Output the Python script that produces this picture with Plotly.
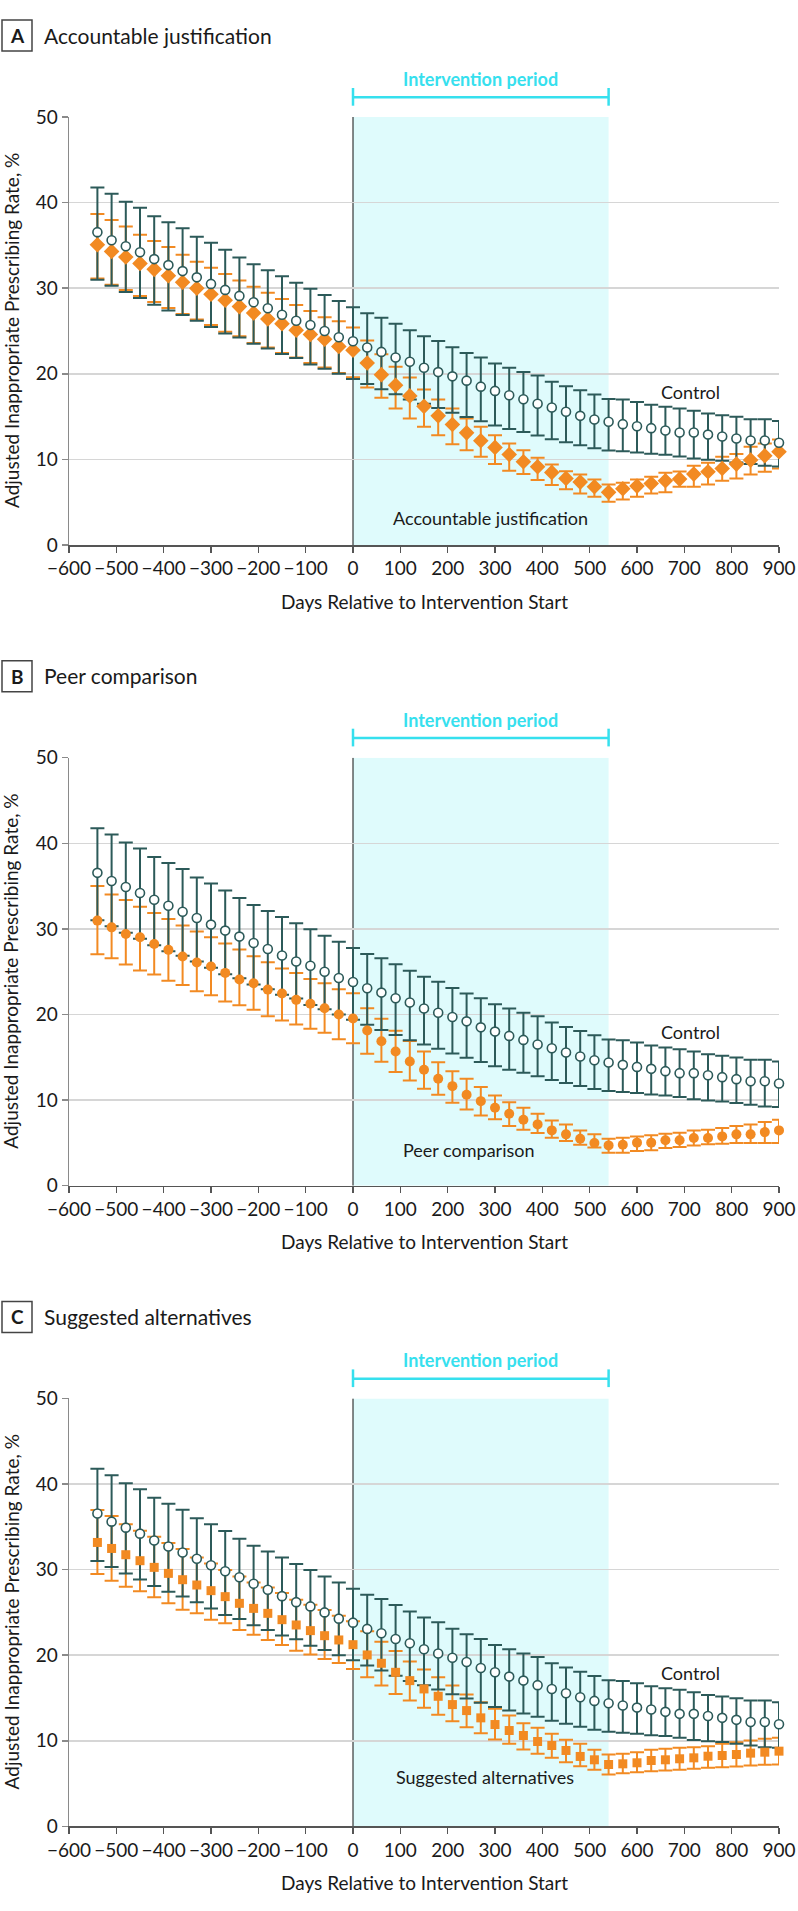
import plotly.graph_objects as go

# ---------------- data ----------------
days = list(range(-540, 901, 30))

control_rate = [36.55, 35.6, 34.9, 34.2, 33.4, 32.7, 32.0, 31.27, 30.5, 29.8, 29.1, 28.35, 27.65, 26.9, 26.2, 25.7, 25.0, 24.27,
                23.8, 23.07, 22.56, 21.9, 21.4, 20.7, 20.2, 19.7, 19.2, 18.5, 18.0, 17.5, 17.03, 16.5, 16.06, 15.56, 15.09, 14.66,
                14.39, 14.12, 13.88, 13.65, 13.38, 13.15, 13.15, 12.9, 12.68, 12.45, 12.2, 12.2, 11.94]
control_upper = [41.77, 41.03, 40.1, 39.4, 38.4, 37.7, 37.0, 36.0, 35.3, 34.5, 33.6, 32.8, 32.1, 31.4, 30.65, 29.95, 29.2, 28.5,
                 27.77, 27.07, 26.56, 25.86, 25.1, 24.4, 23.84, 23.1, 22.44, 21.9, 21.2, 20.7, 20.2, 19.8, 19.06, 18.55, 18.08, 17.58,
                 17.07, 17.0, 16.72, 16.37, 16.14, 15.95, 15.67, 15.36, 15.17, 14.97, 14.7, 14.7, 14.5]
control_lower = [31.0, 30.3, 29.55, 28.85, 28.08, 27.4, 26.87, 26.2, 25.47, 24.7, 24.23, 23.5, 22.95, 22.3, 21.86, 21.1, 20.6, 20.0,
                 19.4, 18.8, 18.2, 17.6, 17.0, 16.5, 16.0, 15.45, 14.95, 14.45, 13.95, 13.55, 13.2, 12.8, 12.35, 12.0, 11.65, 11.3,
                 11.05, 10.95, 10.82, 10.66, 10.55, 10.35, 10.1, 9.96, 9.85, 9.65, 9.46, 9.25, 9.18]

aj_rate = [35.08, 34.3, 33.64, 32.9, 32.2, 31.46, 30.7, 30.0, 29.3, 28.6, 27.85, 27.1, 26.4, 25.86, 25.1, 24.6, 24.04, 23.2,
           22.75, 21.27, 19.9, 18.67, 17.42, 16.2, 15.09, 14.08, 13.1, 12.17, 11.4, 10.58, 9.72, 9.14, 8.48, 7.78, 7.35, 6.81,
           6.15, 6.57, 6.88, 7.19, 7.5, 7.7, 8.28, 8.56, 8.94, 9.45, 9.92, 10.42, 10.89]
aj_upper = [38.66, 37.96, 37.2, 36.25, 35.5, 34.8, 33.9, 33.1, 32.4, 31.66, 30.9, 30.18, 29.48, 28.74, 28.04, 27.34, 26.6, 26.13,
            25.4, 23.9, 22.28, 20.82, 19.56, 18.16, 17.0, 15.95, 14.78, 13.8, 12.83, 11.86, 11.08, 10.19, 9.41, 8.63, 8.25, 7.66,
            7.08, 7.27, 7.66, 7.97, 8.44, 8.6, 9.26, 9.6, 10.3, 10.62, 11.47, 11.86, 12.33]
aj_lower = [31.13, 30.4, 29.8, 29.1, 28.4, 27.7, 27.0, 26.35, 25.7, 24.9, 24.4, 23.6, 23.06, 22.44, 21.9, 21.27, 20.73, 20.1,
            19.6, 18.4, 17.2, 15.95, 14.78, 13.8, 12.83, 11.78, 11.08, 10.3, 9.45, 8.67, 8.28, 7.58, 7.0, 6.5, 6.03, 5.64,
            5.05, 5.33, 5.64, 6.03, 6.15, 6.8, 6.8, 7.08, 7.5, 7.78, 8.25, 8.56, 8.94]

pc_rate = [30.97, 30.18, 29.41, 29.02, 28.24, 27.55, 26.77, 26.07, 25.6, 24.86, 24.08, 23.65, 22.91, 22.45, 21.71, 21.25, 20.74, 20.0,
           19.53, 18.13, 16.88, 15.68, 14.51, 13.54, 12.5, 11.63, 10.63, 9.88, 9.11, 8.41, 7.71, 7.16, 6.46, 6.0, 5.49, 4.98,
           4.71, 4.79, 5.03, 5.03, 5.3, 5.3, 5.57, 5.57, 5.76, 6.0, 6.0, 6.26, 6.46]
pc_upper = [35.0, 34.03, 33.38, 32.6, 31.86, 31.16, 30.4, 29.71, 29.01, 28.3, 27.58, 26.8, 26.1, 25.36, 24.86, 24.16, 23.65, 22.95,
            22.48, 20.73, 19.5, 18.1, 16.9, 15.68, 14.43, 13.38, 12.5, 11.52, 10.55, 9.76, 9.11, 8.41, 7.63, 7.16, 6.46, 6.0,
            5.49, 5.61, 5.76, 5.88, 6.08, 6.2, 6.46, 6.54, 6.73, 6.97, 7.16, 7.43, 7.71]
pc_lower = [27.03, 26.56, 25.83, 25.13, 24.66, 23.93, 23.46, 22.72, 22.25, 21.51, 21.08, 20.55, 19.8, 19.3, 18.83, 18.33, 17.86, 17.12,
            16.65, 15.41, 14.48, 13.27, 12.3, 11.33, 10.63, 9.7, 8.91, 8.21, 7.75, 6.97, 6.54, 6.15, 5.61, 5.22, 4.79, 4.45,
            3.86, 3.86, 4.05, 4.13, 4.4, 4.51, 4.71, 4.83, 4.91, 4.98, 4.98, 4.98, 4.98]

sa_rate = [33.17, 32.47, 31.74, 31.04, 30.26, 29.56, 28.82, 28.2, 27.54, 26.84, 26.06, 25.47, 24.89, 24.15, 23.53, 22.87, 22.28, 21.78,
           21.23, 20.03, 19.06, 18.0, 17.03, 16.06, 15.2, 14.23, 13.53, 12.68, 11.9, 11.2, 10.62, 9.92, 9.45, 8.87, 8.17, 7.78,
           7.23, 7.31, 7.43, 7.7, 7.78, 7.9, 8.01, 8.2, 8.28, 8.4, 8.56, 8.67, 8.79]
sa_upper = [36.95, 36.25, 35.3, 34.53, 33.84, 33.1, 32.4, 31.42, 30.72, 29.95, 29.2, 28.5, 27.92, 27.27, 26.49, 25.9, 25.28, 24.62,
            23.96, 22.79, 21.58, 20.5, 19.27, 18.32, 17.42, 16.45, 15.4, 14.5, 13.73, 12.95, 12.05, 11.52, 10.82, 10.12, 9.65, 8.94,
            8.4, 8.48, 8.67, 8.94, 9.06, 9.18, 9.26, 9.37, 9.65, 9.84, 10.03, 10.23, 10.35]
sa_lower = [29.48, 28.7, 28.0, 27.46, 26.76, 26.06, 25.32, 24.89, 24.15, 23.72, 22.95, 22.4, 21.78, 21.2, 20.53, 20.07, 19.56, 19.1,
            18.4, 17.42, 16.45, 15.48, 14.7, 13.85, 13.03, 12.29, 11.59, 10.89, 10.15, 9.65, 8.98, 8.48, 8.01, 7.5, 7.04, 6.61,
            6.07, 6.22, 6.34, 6.45, 6.53, 6.61, 6.73, 6.85, 6.92, 7.0, 7.12, 7.2, 7.23]

panel_letters = ["A", "B", "C"]
panel_titles = ["Accountable justification", "Peer comparison", "Suggested alternatives"]
panel_symbols = ["diamond", "circle", "square"]
label_pos = [(291, 3.1), (246, 4.2), (278, 5.8)]
x_ticks = list(range(-600, 901, 100))
y_ticks = list(range(0, 51, 10))
intervention_start, intervention_end = 0, 540

interventions = [(aj_rate, aj_lower, aj_upper), (pc_rate, pc_lower, pc_upper), (sa_rate, sa_lower, sa_upper)]

# ---------------- style ----------------
W, H = 798, 1911
ML, MR = 69, 19
PW = W - ML - MR
FONT = "Lato"
TEAL = "#2c5a59"
ORANGE = "#f28a22"
CYAN = "#36e0ee"
SHADE = "#dffbfc"
TXT = "#1a1a1a"


def px_x(p):
    return (p - ML) / PW


def px_y(p):
    return 1 - p / H


panels_px = [(117.0, 545.0), (757.7, 1185.7), (1398.4, 1826.4)]

fig = go.Figure()
shapes, annots = [], []


def eb(r, l, u):
    return dict(type="data", symmetric=False,
                array=[a - b for a, b in zip(u, r)],
                arrayminus=[b - a for a, b in zip(l, r)])


for i in range(3):
    xa = "x" if i == 0 else f"x{i+1}"
    ya = "y" if i == 0 else f"y{i+1}"
    rate, lo, up = interventions[i]

    fig.add_trace(go.Scatter(x=days, y=rate, mode="markers", xaxis=xa, yaxis=ya, cliponaxis=False,
                             marker=dict(size=1, color="rgba(0,0,0,0)"),
                             error_y=dict(**eb(rate, lo, up), color=ORANGE, thickness=2, width=7),
                             showlegend=False, hoverinfo="skip"))
    fig.add_trace(go.Scatter(x=days, y=control_rate, mode="markers", xaxis=xa, yaxis=ya, cliponaxis=False,
                             marker=dict(size=1, color="rgba(0,0,0,0)"),
                             error_y=dict(**eb(control_rate, control_lower, control_upper), color=TEAL, thickness=2, width=7),
                             showlegend=False, hoverinfo="skip"))
    sym = panel_symbols[i]
    msize = {"diamond": 12, "circle": 10, "square": 9}[sym]
    fig.add_trace(go.Scatter(x=days, y=rate, mode="markers", xaxis=xa, yaxis=ya, cliponaxis=False,
                             marker=dict(symbol=sym, size=msize, color=ORANGE, line=dict(width=0)),
                             name=panel_titles[i], showlegend=False))
    fig.add_trace(go.Scatter(x=days, y=control_rate, mode="markers", xaxis=xa, yaxis=ya, cliponaxis=False,
                             marker=dict(symbol="circle", size=9, color="white", line=dict(width=1.6, color=TEAL)),
                             name="Control", showlegend=False))

    top, bot = panels_px[i]
    dom = [1 - bot / H, 1 - top / H]
    axis_common = dict(showline=True, linewidth=1.5, ticks="outside", ticklen=6, tickwidth=1.5,
                       tickfont=dict(family=FONT, size=19, color=TXT), zeroline=False,
                       ticklabeloverflow="allow", automargin=False)
    fig.layout[("xaxis" if i == 0 else f"xaxis{i+1}")] = dict(
        domain=[0, 1], anchor=ya, range=[-600, 900], tickvals=x_ticks, showgrid=False,
        linecolor="#555555", tickcolor="#555555", **axis_common)
    fig.layout[("yaxis" if i == 0 else f"yaxis{i+1}")] = dict(
        domain=dom, anchor=xa, range=[0, 50], tickvals=y_ticks, showgrid=True,
        gridcolor="#d6d6d6", gridwidth=1.5, linecolor="#8a8a8a", tickcolor="#8a8a8a", **axis_common)

    yd = ya + " domain"
    ph = bot - top
    shapes.append(dict(type="rect", xref=xa, yref=ya, x0=intervention_start, x1=intervention_end, y0=0, y1=50,
                       fillcolor=SHADE, line=dict(width=0), layer="below"))
    shapes.append(dict(type="line", xref=xa, yref=ya, x0=0, x1=0, y0=0, y1=50,
                       line=dict(color="#111111", width=1), layer="below"))
    yb = 1 + 19.7 / ph
    shapes.append(dict(type="line", xref=xa, yref=yd, x0=intervention_start, x1=intervention_end, y0=yb, y1=yb,
                       line=dict(color=CYAN, width=2.5)))
    for xv in (intervention_start, intervention_end):
        shapes.append(dict(type="line", xref=xa, yref=yd, x0=xv, x1=xv, y0=1 + 11.3 / ph, y1=1 + 29 / ph,
                           line=dict(color=CYAN, width=2.5)))
    annots.append(dict(text="<b>Intervention period</b>", xref=xa, yref=yd, x=270, y=1 + 38 / ph,
                       xanchor="center", yanchor="middle", showarrow=False,
                       font=dict(family=FONT, size=18, color=CYAN)))
    annots.append(dict(text="Control", xref=xa, yref=ya, x=712, y=17.9, showarrow=False,
                       xanchor="center", yanchor="middle", font=dict(family=FONT, size=18, color=TXT)))
    lx, ly = label_pos[i]
    annots.append(dict(text=panel_titles[i], xref=xa, yref=ya, x=lx, y=ly, showarrow=False,
                       xanchor="center", yanchor="middle", font=dict(family=FONT, size=18, color=TXT)))
    off = top - 117.0
    shapes.append(dict(type="rect", xref="paper", yref="paper", x0=px_x(2), x1=px_x(32),
                       y0=px_y(51 + off), y1=px_y(20 + off),
                       line=dict(color="#444444", width=1.5), fillcolor="white"))
    annots.append(dict(text=f"<b>{panel_letters[i]}</b>", xref="paper", yref="paper", x=px_x(17), y=px_y(35.5 + off),
                       xanchor="center", yanchor="middle", showarrow=False,
                       font=dict(family=FONT, size=19, color=TXT)))
    annots.append(dict(text=panel_titles[i], xref="paper", yref="paper", x=px_x(42), y=px_y(35 + off),
                       xanchor="left", yanchor="middle", showarrow=False,
                       font=dict(family=FONT, size=21, color=TXT)))
    annots.append(dict(text="Days Relative to Intervention Start", xref="paper", yref="paper",
                       x=0.5, y=px_y(601 + off), xanchor="center", yanchor="middle",
                       showarrow=False, font=dict(family=FONT, size=19, color=TXT)))
    annots.append(dict(text="Adjusted Inappropriate Prescribing Rate, %", xref="paper", yref="paper",
                       x=px_x(11), y=px_y((top + bot) / 2), xanchor="center", yanchor="middle", textangle=-90,
                       showarrow=False, font=dict(family=FONT, size=19, color=TXT)))

fig.update_layout(template="none", width=W, height=H, margin=dict(l=ML, r=MR, t=0, b=0, pad=0, autoexpand=False),
                  paper_bgcolor="white", plot_bgcolor="white",
                  shapes=shapes, annotations=annots, showlegend=False,
                  font=dict(family=FONT, color=TXT))

# place the figure flush with the page corner (remove the browser's default body margin)
page_fix = "document.body.style.margin='0';document.documentElement.style.overflow='hidden';"
fig.write_html("out.html", post_script=page_fix, config={"displayModeBar": False, "staticPlot": True})
